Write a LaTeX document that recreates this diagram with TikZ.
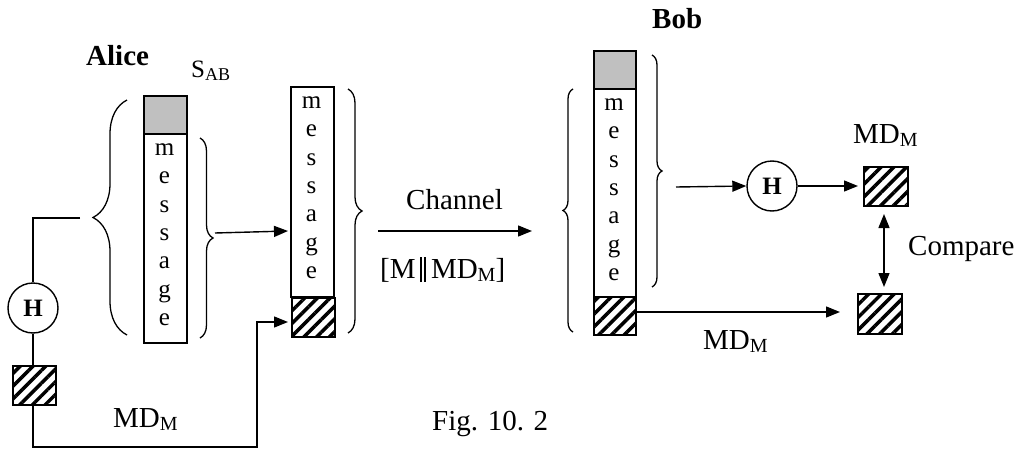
\documentclass[tikz,border=0pt]{standalone}
\usepackage{fontspec}
\setmainfont{Liberation Serif}
\usetikzlibrary{arrows.meta,patterns.meta,decorations.pathreplacing}
\definecolor{keygray}{RGB}{192,192,192}
\newcommand\mysub[2]{\raisebox{-0.13em}{\fontsize{#1}{#1}\selectfont #2}}
\newcommand\dbar{\rule[-4pt]{1.7pt}{25pt}\hspace{2.3pt}\rule[-4pt]{1.7pt}{25pt}}
\begin{document}
\begin{tikzpicture}[x=1pt,y=-1pt,
  lw/.style={line width=1.4pt},
  arr/.style={lw,-{Triangle[length=14pt,width=11pt]}},
  darr/.style={lw,{Triangle[length=14pt,width=11pt]}-{Triangle[length=14pt,width=11pt]}},
  part/.style={draw,line width=1.5pt,inner sep=0pt,anchor=north west,minimum width=43pt},
  keybox/.style={part,fill=keygray},
  msgbox/.style={part,fill=white},
  hashbox/.style={part,pattern={Lines[angle=45,distance=9pt,line width=3.5pt]}},
  letter/.style={font=\fontsize{25}{25}\selectfont,anchor=base,inner sep=0pt},
  lbl/.style={font=\fontsize{29}{29}\selectfont,anchor=base west,inner sep=0pt},
  bname/.style={font=\fontsize{29}{29}\selectfont\bfseries,anchor=base west,inner sep=0pt},
  hnode/.style={draw,circle,line width=1.4pt,minimum size=50pt,inner sep=0pt,fill=white,font=\fontsize{25}{25}\selectfont\bfseries},
  brc/.style={decorate,decoration={brace,amplitude=#1},line width=1.3pt},
]
\useasboundingbox (0,0) rectangle (1021,450);

% ---- Alice block
\node[keybox,minimum height=38pt] (akey) at (143,95) {};
\node[msgbox,minimum height=209pt] (amsg) at (143,133) {};
\foreach \l [count=\i] in {m,e,s,s,a,g,e}
  \node[letter] (aL\i) at (164.5,127.2+28.3*\i) {\l};

% ---- transmitted block
\node[msgbox,minimum height=210pt] (mmsg) at (290,86) {};
\node[hashbox,minimum height=39pt] (mhash) at (290,296) {};
\foreach \l [count=\i] in {m,e,s,s,a,g,e}
  \node[letter] (mL\i) at (311.5,80.2+28.3*\i) {\l};

% ---- Bob block
\node[keybox,minimum width=42pt,minimum height=38pt] (bkey) at (593,50) {};
\node[msgbox,minimum width=42pt,minimum height=208pt] (bmsg) at (593,88) {};
\node[hashbox,minimum width=42pt,minimum height=38pt] (bhash) at (593,296) {};
\foreach \l [count=\i] in {m,e,s,s,a,g,e}
  \node[letter] (bL\i) at (614,82.2+28.3*\i) {\l};

% ---- digest squares
\node[hashbox,minimum width=43pt,minimum height=39pt] (asq) at (12,365) {};
\node[hashbox,minimum width=44pt,minimum height=39pt] (usq) at (863,166) {};
\node[hashbox,minimum width=44pt,minimum height=40pt] (lsq) at (857,293) {};

% ---- hash circles
\node[hnode] (ah) at (33,308) {H};
\node[hnode] (bh) at (772,186) {H};

% ---- braces
\draw[brc=34] (127,335) -- (127,100);
\draw[brc=13] (200,138) -- (200,338);
\draw[brc=14] (348,89) -- (348,333);
\draw[brc=10] (573,332) -- (573,89);
\draw[brc=10] (652,55) -- (652,287);

% ---- coordinates
\coordinate (lstart) at (80,218);
\coordinate (bend1) at (257,447);
\coordinate (mhin) at (288,322);
\coordinate (abt) at (215,233);
\coordinate (min) at (288,231);
\coordinate (ch1) at (378,231);
\coordinate (ch2) at (532,231);
\coordinate (bbt) at (676,187);
\coordinate (usqin) at (858,186);
\coordinate (cmp1) at (884,214);
\coordinate (cmp2) at (884,287);
\coordinate (lsqin) at (840,312);

% ---- connectors
\draw[lw] (lstart) -| (ah.north);
\draw[lw] (ah.south) -- (ah.south |- asq.north);
\draw[arr] (ah.south |- asq.south) |- (bend1) |- (mhin);
\draw[arr] (abt) -- (min);
\draw[arr] (ch1) -- (ch2);
\draw[arr] (bbt) -- (bh.west);
\draw[arr] (bh.east) -- (usqin);
\draw[darr] (cmp1) -- (cmp2);
\draw[arr] (bhash.east |- lsqin) -- (lsqin);

% ---- labels
\node[bname] (alice) at (86,65) {Alice};
\node[lbl,font=\fontsize{25}{25}\selectfont] (sab) at (191,77) {S\mysub{18}{AB}};
\node[bname] (bob) at (652,28) {Bob};
\node[lbl,anchor=base] (chan) at (454.5,209) {Channel};
\node[lbl] (mmd) at (380,278) {[M\,\dbar\,MD\mysub{20}{M}]};
\node[lbl] (mdu) at (853,143) {MD\mysub{20}{M}};
\node[lbl] (mdb) at (703,349) {MD\mysub{20}{M}};
\node[lbl] (mda) at (113,427) {MD\mysub{20}{M}};
\node[lbl] (cmp) at (908,255) {Compare};
\node[lbl] (fig) at (432,430) {Fig. 10. 2};
\end{tikzpicture}
\end{document}
